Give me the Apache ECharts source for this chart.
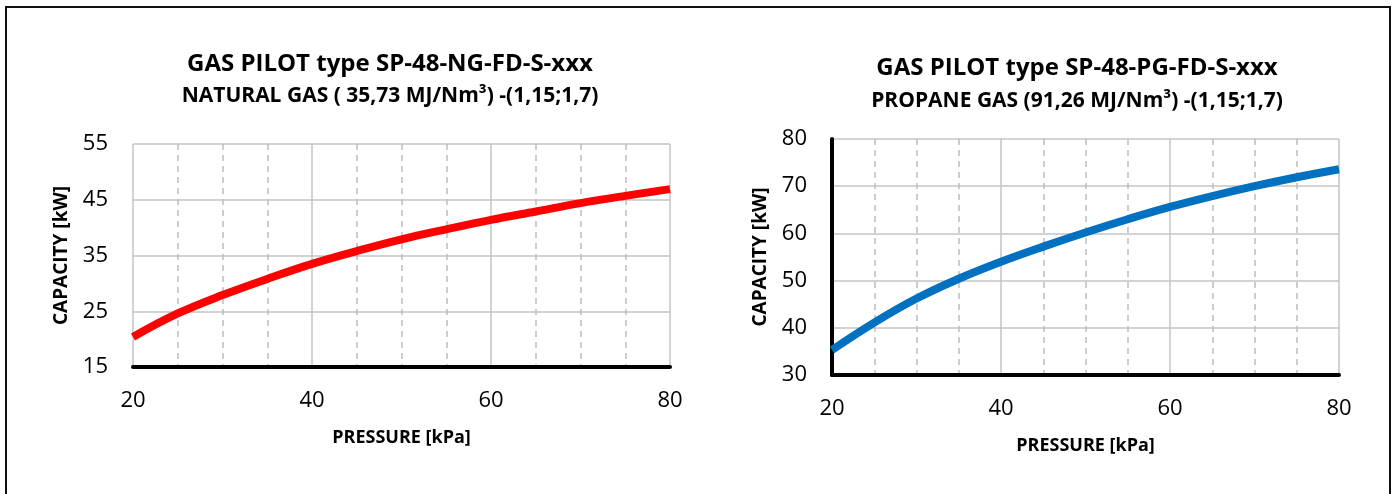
<!DOCTYPE html>
<html>
<head>
<meta charset="utf-8">
<script src="https://cdn.jsdelivr.net/npm/echarts@6/dist/echarts.min.js"></script>
<style>
  html, body { margin: 0; padding: 0; background: #fff; }
  #chart { width: 1393px; height: 494px; }
</style>
</head>
<body>
<div id="chart"></div>
<script>
// values
var pressure = [20, 25, 30, 35, 40, 45, 50, 55, 60, 65, 70, 75, 80];
var capacityNG = [20.4, 24.6, 27.9, 30.8, 33.5, 35.8, 37.9, 39.7, 41.4, 42.9, 44.4, 45.7, 46.9];
var capacityPG = [35.3, 41.1, 46.2, 50.4, 54.0, 57.2, 60.2, 63.0, 65.6, 67.9, 70.0, 71.9, 73.6];

var titleNG = "GAS PILOT type SP-48-NG-FD-S-xxx";
var subNG = "NATURAL GAS ( 35,73 MJ/Nm³) -(1,15;1,7)";
var titlePG = "GAS PILOT type SP-48-PG-FD-S-xxx";
var subPG = "PROPANE GAS (91,26 MJ/Nm³) -(1,15;1,7)";
var xName = "PRESSURE [kPa]";
var yName = "CAPACITY [kW]";

var font = "'Open Sans', sans-serif";

function pairs(ys) {
  return pressure.map(function (p, i) { return [p, ys[i]]; });
}

function xAxis(gridIndex) {
  return {
    type: "value",
    gridIndex: gridIndex,
    min: 20,
    max: 80,
    interval: 20,
    name: xName,
    nameLocation: "middle",
    nameGap: 62,
    nameTextStyle: { fontFamily: font, fontWeight: "bold", fontSize: 18, color: "#000" },
    axisLine: { show: true, lineStyle: { color: "#000", width: 4 } },
    axisTick: { show: false },
    axisLabel: { fontFamily: font, fontSize: 22, color: "#000", margin: 23 },
    splitLine: { show: true, lineStyle: { color: "#c4c4c4", width: 1.5 } },
    minorTick: { show: false, splitNumber: 4 },
    minorSplitLine: { show: true, lineStyle: { color: "#bdbdbd", width: 1.5, type: [6, 5] } }
  };
}

function yAxis(gridIndex, min, max, blackLine) {
  return {
    type: "value",
    gridIndex: gridIndex,
    min: min,
    max: max,
    interval: 10,
    name: yName,
    nameLocation: "middle",
    nameGap: 62,
    nameTextStyle: { fontFamily: font, fontWeight: "bold", fontSize: 19, color: "#000" },
    axisLine: { show: blackLine, lineStyle: { color: "#000", width: 4 } },
    axisTick: { show: false },
    axisLabel: { fontFamily: font, fontSize: 22, color: "#000", margin: 25 },
    splitLine: { show: true, lineStyle: { color: "#c4c4c4", width: 1.5 } }
  };
}

function title(text, x, y, size) {
  return {
    text: text,
    left: x,
    top: y,
    textAlign: "center",
    padding: 0,
    textStyle: { fontFamily: font, fontWeight: "bold", fontSize: size, color: "#000" }
  };
}

var chart = echarts.init(document.getElementById("chart"));
chart.setOption({
  backgroundColor: "#fff",
  animation: false,
  title: [
    title(titleNG, 390, 52, 24),
    title(subNG, 390, 86, 21),
    title(titlePG, 1077, 56, 24),
    title(subPG, 1077, 91, 21)
  ],
  grid: [
    { left: 133, right: 723, top: 144, bottom: 127 },
    { left: 832, right: 54, top: 139, bottom: 119 }
  ],
  xAxis: [xAxis(0), xAxis(1)],
  yAxis: [yAxis(0, 15, 55, false), yAxis(1, 30, 80, true)],
  series: [
    {
      type: "line",
      xAxisIndex: 0,
      yAxisIndex: 0,
      smooth: 0.4,
      showSymbol: false,
      clip: false,
      lineStyle: { color: "#ff0000", width: 8 },
      data: pairs(capacityNG)
    },
    {
      type: "line",
      xAxisIndex: 1,
      yAxisIndex: 1,
      smooth: 0.4,
      showSymbol: false,
      clip: false,
      lineStyle: { color: "#0070c0", width: 8 },
      data: pairs(capacityPG)
    }
  ],
  graphic: [
    {
      type: "polyline",
      silent: true,
      shape: { points: [[6, 494], [6, 7], [1390, 7], [1390, 494]] },
      style: { fill: null, stroke: "#111", lineWidth: 2 }
    }
  ]
});
</script>
</body>
</html>
